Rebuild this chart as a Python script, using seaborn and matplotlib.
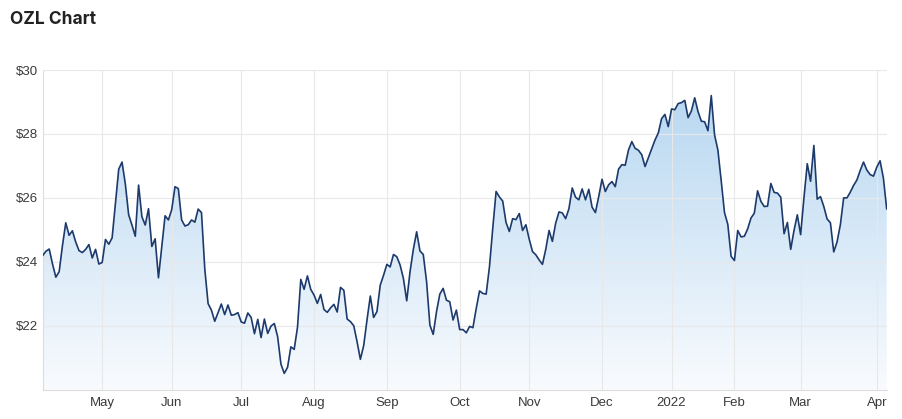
import numpy as np
import pandas as pd
import matplotlib
matplotlib.use("Agg")
import matplotlib.pyplot as plt
import seaborn as sns
from matplotlib.colors import LinearSegmentedColormap
from matplotlib.patches import PathPatch

# ---------------- data ----------------
title = "OZL Chart"
start_date = "2021-04-06"
end_date = "2022-04-06"
market_holidays = ["2021-04-26", "2021-06-14", "2021-12-27", "2021-12-28",
                   "2022-01-03", "2022-01-26"]

prices = [
    24.19, 24.33, 24.40, 23.93, 23.52, 23.69, 24.51, 25.22, 24.83, 24.97,
    24.62, 24.35, 24.29, 24.39, 24.54, 24.12, 24.39, 23.93, 23.98, 24.70,
    24.55, 24.75, 25.84, 26.90, 27.12, 26.43, 25.47, 25.15, 24.80, 26.40,
    25.41, 25.15, 25.66, 24.48, 24.72, 23.50, 24.46, 25.44, 25.31, 25.63,
    26.35, 26.29, 25.31, 25.12, 25.16, 25.31, 25.24, 25.65, 25.54, 23.77,
    22.69, 22.49, 22.14, 22.41, 22.68, 22.35, 22.65, 22.33, 22.35, 22.41,
    22.12, 22.08, 22.40, 22.26, 21.75, 22.20, 21.63, 22.21, 21.76, 21.99,
    22.07, 21.66, 20.80, 20.51, 20.70, 21.34, 21.26, 21.95, 23.45, 23.14,
    23.56, 23.14, 22.96, 22.70, 22.98, 22.51, 22.42, 22.56, 22.67, 22.43,
    23.20, 23.11, 22.21, 22.13, 22.00, 21.50, 20.95, 21.38, 22.18, 22.93,
    22.26, 22.44, 23.27, 23.58, 23.92, 23.84, 24.23, 24.16, 23.90, 23.48,
    22.78, 23.69, 24.39, 24.94, 24.34, 24.23, 23.38, 22.02, 21.73, 22.44,
    22.99, 23.17, 22.80, 22.75, 22.18, 22.49, 21.88, 21.88, 21.78, 21.98,
    21.94, 22.54, 23.09, 23.01, 22.99, 23.85, 25.06, 26.20, 26.03, 25.90,
    25.23, 24.95, 25.35, 25.32, 25.51, 24.98, 25.16, 24.71, 24.32, 24.22,
    24.06, 23.92, 24.39, 24.98, 24.64, 25.21, 25.56, 25.53, 25.35, 25.66,
    26.31, 26.02, 25.94, 26.28, 25.94, 26.27, 25.71, 25.54, 26.04, 26.58,
    26.20, 26.41, 26.51, 26.35, 26.90, 27.04, 27.02, 27.50, 27.76, 27.55,
    27.49, 27.35, 26.98, 27.26, 27.55, 27.81, 28.03, 28.48, 28.61, 28.23,
    28.78, 28.76, 28.95, 28.98, 29.05, 28.51, 28.72, 29.13, 28.70, 28.40,
    28.38, 28.10, 29.20, 27.97, 27.50, 26.54, 25.54, 25.17, 24.17, 24.04,
    24.98, 24.78, 24.80, 25.03, 25.37, 25.52, 26.22, 25.89, 25.73, 25.74,
    26.45, 26.17, 26.15, 26.02, 24.88, 25.23, 24.39, 24.98, 25.47, 24.85,
    26.00, 27.07, 26.52, 27.64, 25.96, 26.04, 25.73, 25.34, 25.22, 24.31,
    24.62, 25.16, 26.00, 26.00, 26.18, 26.39, 26.56, 26.86, 27.12, 26.87,
    26.73, 26.68, 26.96, 27.16, 26.62, 25.65,
]

y_ticks = [22, 24, 26, 28, 30]
y_tick_labels = ["$22", "$24", "$26", "$28", "$30"]
y_min, y_max = 20, 30

# ---------------- build ----------------
dates = pd.bdate_range(start_date, end_date, freq="C", holidays=market_holidays)
n = min(len(dates), len(prices))
dates = dates[:n]
df = pd.DataFrame({"idx": np.arange(n), "date": dates, "price": prices[:n]})

# first trading day of each month (skip partial first month)
firsts = df.groupby([df.date.dt.year, df.date.dt.month]).idx.min().values
tick_pos, tick_lab = [], []
for p in firsts:
    if p == 0:
        continue
    d = df.date.iloc[p]
    tick_pos.append(p)
    tick_lab.append(str(d.year) if d.month == 1 else d.strftime("%b"))

sns.set_theme(style="white")
plt.rcParams["font.family"] = ["Liberation Sans", "DejaVu Sans"]

fig = plt.figure(figsize=(9.02, 4.19), dpi=100)
ax = fig.add_axes([42.6 / 902, 29.3 / 419, (886.7 - 42.6) / 902, (389.7 - 70) / 419])

# gradient area fill
poly = ax.fill_between(df.idx, df.price, y_min, color="none", lw=0)
path = poly.get_paths()[0]
patch = PathPatch(path, transform=ax.transData, facecolor="none", edgecolor="none")
ax.add_patch(patch)
cmap = LinearSegmentedColormap.from_list("grad", ["#f9fbfe", "#b3d5f0"])
grad = np.linspace(1, 0, 256).reshape(-1, 1)
im = ax.imshow(grad, extent=[0, n - 1, y_min, y_max], origin="upper", aspect="auto",
               cmap=cmap, vmin=0, vmax=1, zorder=1)
im.set_clip_path(patch)

sns.lineplot(data=df, x="idx", y="price", ax=ax, color="#1c3a6b", linewidth=1.2, zorder=3)

ax.set_xlim(0, n - 1)
ax.set_ylim(y_min, y_max)
ax.set_xticks(tick_pos)
ax.set_xticklabels(tick_lab)
ax.set_yticks(y_ticks)
ax.set_yticklabels(y_tick_labels)
ax.set_xlabel("")
ax.set_ylabel("")

ax.grid(True, color="#e8e8e8", linewidth=0.8)
ax.set_axisbelow(False)
for s in ["top", "right"]:
    ax.spines[s].set_visible(False)
for s in ["left", "bottom"]:
    ax.spines[s].set_color("#dcdcdc")
    ax.spines[s].set_linewidth(0.8)
ax.tick_params(axis="both", length=0, labelcolor="#3a3a3a", labelsize=9.5)
ax.tick_params(axis="y", pad=3.5)
ax.tick_params(axis="x", pad=5)

fig.text(10 / 902, 1 - 19 / 419, title, fontsize=12.5, fontweight="bold",
         color="#222222", va="center", ha="left", family=["Inter", "DejaVu Sans"])

fig.savefig("out.png", dpi=100, facecolor="white")
